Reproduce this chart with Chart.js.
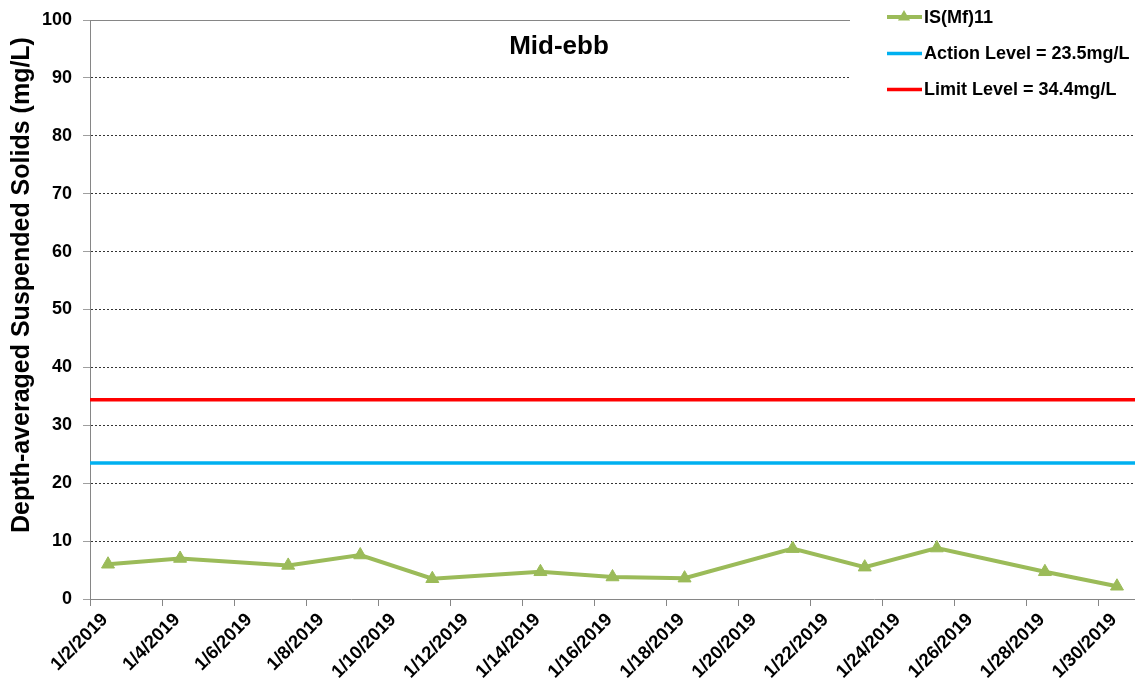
<!DOCTYPE html>
<html>
<head>
<meta charset="utf-8">
<script src="https://cdn.jsdelivr.net/npm/chart.js@4/dist/chart.umd.min.js"></script>
<style>
  html, body { margin: 0; padding: 0; background: #fff; }
  #wrap { width: 1135px; height: 685px; position: relative; }
</style>
</head>
<body>
<div id="wrap"><canvas id="c" width="1135" height="685"></canvas></div>
<script>
// ---- Data ----
const sampleDays = [2.5, 4.5, 7.5, 9.5, 11.5, 14.5, 16.5, 18.5, 21.5, 23.5, 25.5, 28.5, 30.5];
const ssValues   = [6.0, 7.0, 5.8, 7.6, 3.5, 4.7, 3.8, 3.6, 8.7, 5.5, 8.8, 4.7, 2.2];
const actionLevel = 23.5;
const limitLevel  = 34.4;
const xRange = [2, 31];
const xTickDays = [2, 4, 6, 8, 10, 12, 14, 16, 18, 20, 22, 24, 26, 28, 30];
const yTicks = [0, 10, 20, 30, 40, 50, 60, 70, 80, 90, 100];
const seriesName = 'IS(Mf)11';
const actionName = 'Action Level = 23.5mg/L';
const limitName  = 'Limit Level = 34.4mg/L';
const chartTitle = 'Mid-ebb';
const yTitle = 'Depth-averaged Suspended Solids (mg/L)';

const FONT = "'Liberation Sans', Arial, sans-serif";
const GREEN = '#9BBB59', BLUE = '#00B0F0', RED = '#FF0000', AXIS = '#868686';

const seriesPts = sampleDays.map((d, i) => ({ x: d, y: ssValues[i] }));
const actionPts = xRange.map(x => ({ x, y: actionLevel }));
const limitPts  = xRange.map(x => ({ x, y: limitLevel }));

const decor = {
  id: 'decor',
  afterDraw(chart) {
    const ctx = chart.ctx, a = chart.chartArea;
    ctx.save();
    // top border line of plot
    ctx.strokeStyle = AXIS; ctx.lineWidth = 1;
    ctx.beginPath(); ctx.moveTo(a.left, a.top + 0.5); ctx.lineTo(850, a.top + 0.5); ctx.stroke();
    // legend box (white background covering grid)
    ctx.fillStyle = '#fff';
    ctx.fillRect(851, 0, 1135 - 851, 102);
    ctx.font = 'bold 18px ' + FONT;
    ctx.textBaseline = 'middle';
    ctx.fillStyle = '#000';
    const items = [
      { name: seriesName, color: GREEN, y: 17, w: 4, marker: true },
      { name: actionName, color: BLUE, y: 53.5, w: 3.5 },
      { name: limitName, color: RED, y: 89.5, w: 3.5 }
    ];
    items.forEach(it => {
      ctx.strokeStyle = it.color; ctx.lineWidth = it.w;
      ctx.beginPath(); ctx.moveTo(887, it.y); ctx.lineTo(922, it.y); ctx.stroke();
      if (it.marker) {
        ctx.fillStyle = it.color;
        const cx = 904, cy = it.y, r = 7;
        ctx.beginPath();
        ctx.moveTo(cx, cy - r);
        ctx.lineTo(cx + r * 0.866, cy + r * 0.5);
        ctx.lineTo(cx - r * 0.866, cy + r * 0.5);
        ctx.closePath(); ctx.fill();
      }
      ctx.fillStyle = '#000';
      ctx.fillText(it.name, 924, it.y + 1);
    });
    // chart title
    ctx.font = 'bold 26px ' + FONT;
    ctx.textAlign = 'center';
    ctx.textBaseline = 'alphabetic';
    ctx.fillText(chartTitle, 559, 54);
    // y-axis title
    ctx.translate(22, 285);
    ctx.rotate(-Math.PI / 2);
    ctx.font = 'bold 25px ' + FONT;
    ctx.textBaseline = 'middle';
    ctx.fillText(yTitle, 0, 0);
    ctx.restore();
  }
};

new Chart(document.getElementById('c'), {
  type: 'line',
  data: {
    datasets: [
      { label: limitName, data: limitPts, borderColor: RED, borderWidth: 3.5, pointRadius: 0, order: 3 },
      { label: actionName, data: actionPts, borderColor: BLUE, borderWidth: 3.5, pointRadius: 0, order: 2 },
      { label: seriesName, data: seriesPts, borderColor: GREEN, backgroundColor: GREEN, borderWidth: 4,
        pointStyle: 'triangle', pointRadius: 7.5, pointBorderWidth: 1, pointBackgroundColor: GREEN,
        pointBorderColor: GREEN, order: 1 }
    ]
  },
  options: {
    responsive: false,
    animation: false,
    layout: { autoPadding: false, padding: { top: 20, right: 0, left: 0, bottom: 0 } },
    plugins: { legend: { display: false }, title: { display: false }, tooltip: { enabled: false } },
    scales: {
      x: {
        type: 'linear',
        min: xRange[0], max: xRange[1],
        afterBuildTicks: s => { s.ticks = xTickDays.map(v => ({ value: v })); },
        ticks: {
          callback: v => '1/' + v + '/2019',
          minRotation: 45, maxRotation: 45,
          autoSkip: false,
          color: '#000',
          font: { family: FONT, size: 18.5, weight: 'bold' },
          labelOffset: 15,
          padding: 3
        },
        grid: { drawOnChartArea: false, drawTicks: true, tickLength: 7, tickColor: AXIS, color: AXIS },
        border: { color: AXIS, width: 1 },
        afterFit: s => { s.height = 86; s.paddingLeft = 0; s.paddingRight = 0; }
      },
      y: {
        min: 0, max: 100,
        afterBuildTicks: s => { s.ticks = yTicks.map(v => ({ value: v })); },
        ticks: {
          color: '#000',
          font: { family: FONT, size: 18, weight: 'bold' },
          padding: 11
        },
        grid: {
          color: c => (c.tick && (c.tick.value === 100 || c.tick.value === 0)) ? 'rgba(0,0,0,0)' : '#000',
          lineWidth: 0.8,
          tickColor: AXIS, tickLength: 7, tickBorderDash: []
        },
        border: { color: AXIS, width: 1, dash: [2, 2] },
        title: { display: false },
        afterFit: s => { s.width = 90; s.paddingTop = 0; s.paddingBottom = 0; }
      }
    }
  },
  plugins: [decor]
});
</script>
</body>
</html>
